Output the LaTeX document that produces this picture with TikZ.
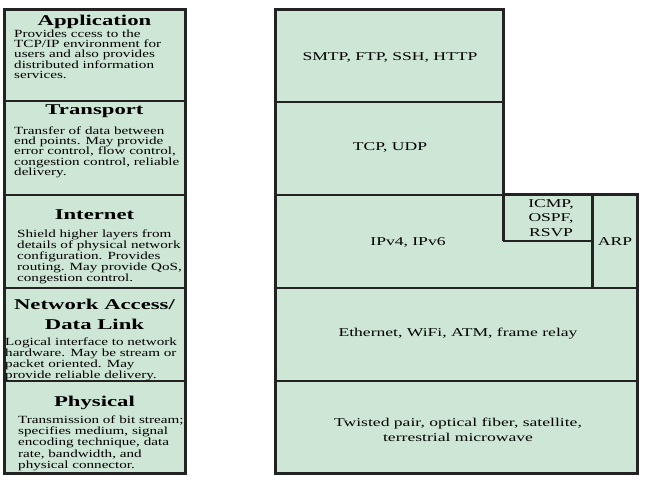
\documentclass[tikz,border=0pt]{standalone}
\usepackage{fontspec}
\setmainfont{Liberation Serif}
\newfontfamily\bodyf[FakeStretch=1.38]{Liberation Serif}
\newfontfamily\titlef[FakeStretch=1.52]{Liberation Serif}
\newfontfamily\protf[FakeStretch=1.47]{Liberation Serif}
\definecolor{boxfill}{RGB}{205,230,213}
\definecolor{lineclr}{RGB}{35,35,35}
\tikzset{
  outer/.style={draw=lineclr, line width=3bp, fill=boxfill, line join=miter},
  sep/.style={draw=lineclr, line width=1.6bp},
  heavy/.style={draw=lineclr, line width=3bp},
  ttl/.style={inner sep=0pt, anchor=base, font=\titlef\bfseries\fontsize{15}{20}\selectfont, align=center},
  body/.style={inner sep=0pt, anchor=base west, align=left},
  prot/.style={inner sep=0pt, anchor=center, align=center, font=\protf\fontsize{12}{14.5}\selectfont},
}
\begin{document}
\begin{tikzpicture}[x=1bp, y=-1bp]
\useasboundingbox (0,0) rectangle (652,480);
% ---------- left column ----------
\path[outer] (4,10) rectangle (185,473);
\draw[sep] (4,101) -- (185,101);
\draw[sep] (4,195) -- (185,195);
\draw[sep] (4,288) -- (185,288);
\draw[sep] (4,381) -- (185,381);
% (base anchor of a multi-line node = baseline of its last line)
\node[ttl] (tapp) at (94.5,26) {Application};
\node[body, font=\bodyf\fontsize{11}{10.4}\selectfont] (bapp) at (14,78.6) {Provides ccess to the\\TCP/IP environment for\\users and also provides\\distributed information\\services.};
\node[ttl] (ttra) at (94.5,115) {Transport};
\node[body, font=\bodyf\fontsize{11}{10.4}\selectfont] (btra) at (14,175.6) {Transfer of data between\\end points. May provide\\error control, flow control,\\congestion control, reliable\\delivery.};
\node[ttl] (tint) at (94.5,220) {Internet};
\node[body, font=\bodyf\fontsize{11}{11}\selectfont] (bint) at (17,281) {Shield higher layers from\\details of physical network\\configuration. Provides\\routing. May provide QoS,\\congestion control.};
\node[ttl] (tnet) at (94.5,329) {Network Access/\\Data Link};
\node[body, font=\bodyf\fontsize{11}{11}\selectfont] (bnet) at (5,378.5) {Logical interface to network\\hardware. May be stream or\\packet oriented. May\\provide reliable delivery.};
\node[ttl] (tphy) at (94.5,406) {Physical};
\node[body, font=\bodyf\fontsize{11}{11.4}\selectfont] (bphy) at (18,468.6) {Transmission of bit stream;\\specifies medium, signal\\encoding technique, data\\rate, bandwidth, and\\physical connector.};
% ---------- right column ----------
\path[outer] (275,10) -- (503,10) -- (503,195) -- (637,195) -- (637,473) -- (275,473) -- cycle;
\draw[sep] (275,102) -- (503,102);
\draw[sep] (275,195) -- (637,195);
\draw[heavy] (503,195) -- (503,241);
\draw[sep] (503,241) -- (592,241);
\draw[heavy] (592,195) -- (592,288);
\draw[sep] (275,288) -- (637,288);
\draw[sep] (275,381) -- (637,381);
\node[prot] (papp) at (390,57) {SMTP, FTP, SSH, HTTP};
\node[prot] (ptra) at (390,147) {TCP, UDP};
\node[prot] (pip) at (408,242) {IPv4, IPv6};
\node[prot] (picmp) at (551,218) {ICMP,\\OSPF,\\RSVP};
\node[prot] (parp) at (615,242) {ARP};
\node[prot] (peth) at (458,334) {Ethernet, WiFi, ATM, frame relay};
\node[prot] (pphy) at (458,430) {Twisted pair, optical fiber, satellite,\\terrestrial microwave};
\end{tikzpicture}
\end{document}
